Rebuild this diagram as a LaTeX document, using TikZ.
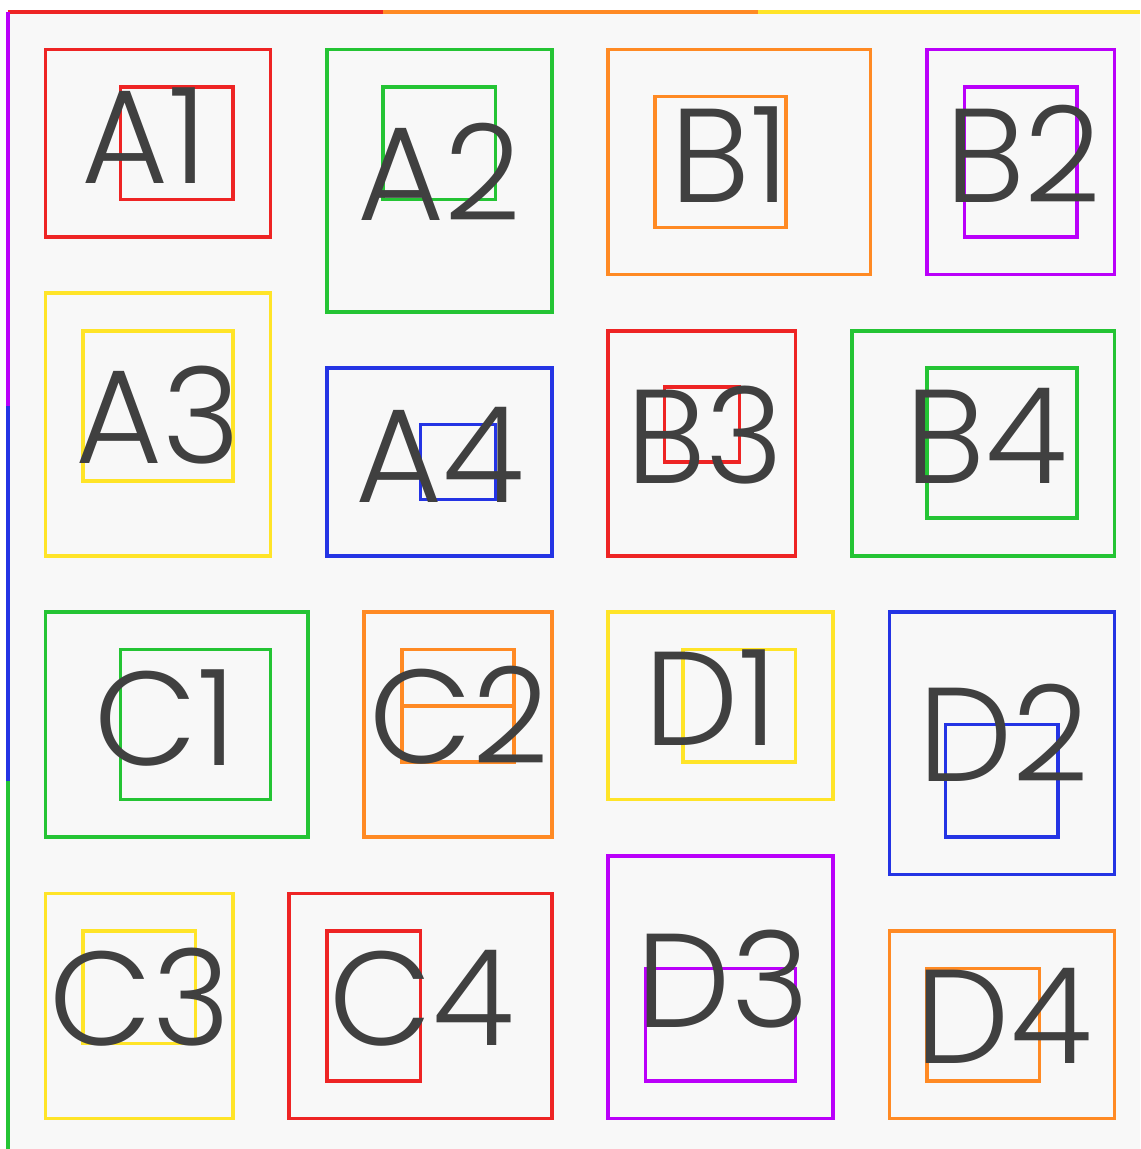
\documentclass[tikz,border=0pt]{standalone}
\usepackage{fontspec}
\IfFontExistsTF{Poppins Light}{\setmainfont{Poppins Light}}{\setmainfont{Poppins}}

\definecolor{bggray}{RGB}{248,248,248}
\definecolor{labelgray}{RGB}{64,64,64}
\definecolor{cred}{RGB}{238,36,36}
\definecolor{cgreen}{RGB}{36,196,52}
\definecolor{corange}{RGB}{255,138,36}
\definecolor{cyellow}{RGB}{255,228,40}
\definecolor{cblue}{RGB}{36,52,228}
\definecolor{cpurple}{RGB}{186,0,250}

\begin{document}
\begin{tikzpicture}[every node/.style={font=\fontsize{76}{76}\selectfont,text=labelgray,inner sep=0pt},
  x=0.75cm,y=-0.75cm,frame/.style={line width=2pt}]
  \useasboundingbox (-0.2133,-0.32) rectangle (30.1867,30.32);
  \fill[white](-0.2133,-0.32) rectangle (30.1867,30.32);
  \fill[bggray](0,0) rectangle (30.1867,30.32);
  % edge lines
  \foreach \c/\s/\e in {cred/0/10,corange/10/20,cyellow/20/30.1867}{
    \draw[\c,frame](\s,0)--(\e,0);
  }
  \foreach \c/\s/\e in {cpurple/0/10.5,cblue/10.5/20.5,cgreen/20.5/30.32}{
    \draw[\c,frame](0,\s)--(0,\e);
  }
  % outer and inner boxes: colour / outer corners / inner corners
  \foreach \c/\ax/\ay/\bx/\by/\px/\py/\qx/\qy in {
    cred/1/1/7/6/3/2/6/5,
    cgreen/8.5/1/14.5/8/10/2/13/5,
    corange/16/1/23/7/17.25/2.25/20.75/5.75,
    cpurple/24.5/1/29.5/7/25.5/2/28.5/6,
    cyellow/1/7.5/7/14.5/2/8.5/6/12.5,
    cblue/8.5/9.5/14.5/14.5/11/11/13/13,
    cred/16/8.5/21/14.5/17.5/10/19.5/12,
    cgreen/22.5/8.5/29.5/14.5/24.5/9.5/28.5/13.5,
    cgreen/1/16/8/22/3/17/7/21,
    corange/9.5/16/14.5/22/10.5/17/13.5/20,
    cyellow/16/16/22/21/18/17/21/20,
    cblue/23.5/16/29.5/23/25/19/28/22,
    cyellow/1/23.5/6/29.5/2/24.5/5/27.5,
    cred/7.5/23.5/14.5/29.5/8.5/24.5/11/28.5,
    cpurple/16/22.5/22/29.5/17/25.5/21/28.5,
    corange/23.5/24.5/29.5/29.5/24.5/25.5/27.5/28.5}{
    \draw[\c,frame](\ax,\ay) rectangle (\bx,\by);
    \draw[\c,frame](\px,\py) rectangle (\qx,\qy);
  }
  \draw[corange,frame](10.5,18.5)--(13.5,18.5);
  % labels
  \foreach \t/\x/\y in {A1/3.65/4.56,A2/11.49/5.57,B1/19.25/5.07,B2/27.07/5.07,
    A3/3.99/12.05,A4/11.51/13.09,B3/18.59/12.56,B4/26.1/12.56,
    C1/4.19/20.08,C2/12.03/20.05,D1/18.75/19.55,D2/26.56/20.53,
    C3/3.52/27.57,C4/11.03/27.55,D3/19.07/27.07,D4/26.56/28.03}{
    \node[anchor=base](\t) at (\x,\y){\t};
  }
\end{tikzpicture}
\end{document}
